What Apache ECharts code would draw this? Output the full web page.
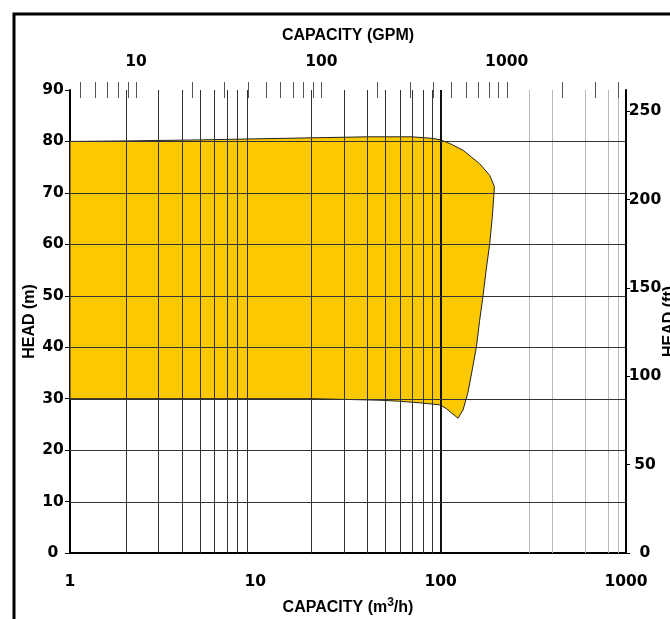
<!DOCTYPE html>
<html><head><meta charset="utf-8">
<script src="https://cdn.jsdelivr.net/npm/echarts@6/dist/echarts.min.js"></script>
<style>html,body{margin:0;padding:0;background:#fff}#c{width:670px;height:619px}</style>
</head><body><div id="c"></div>
<script>
// Operating envelope (capacity m3/h, head m), clockwise from top-left
const envelopeQ = [1, 2, 5, 10, 20, 40, 70, 90, 100, 112, 132, 162, 184, 195, 190, 184, 176, 169, 162, 156, 148, 140, 132, 124, 107, 99, 77, 60, 47, 20, 1];
const envelopeH = [80.0, 80.1, 80.3, 80.5, 80.7, 80.9, 80.9, 80.6, 80.3, 79.6, 78.3, 75.7, 73.4, 71.2, 65.4, 60.2, 55.0, 49.8, 45.0, 40.1, 35.6, 31.0, 27.8, 26.2, 28.1, 28.8, 29.2, 29.5, 29.7, 30.0, 30.0];
// Grid lines
const gridQ = [2, 3, 4, 5, 6, 7, 8, 9, 20, 30, 40, 50, 60, 70, 80, 90, 100, 300, 400, 600, 800, 900];
const gridH = [10, 20, 30, 40, 50, 60, 70, 80];
// Top (GPM) axis ticks
const gpmTicks = [5, 6, 7, 8, 9, 10, 20, 30, 40, 50, 60, 70, 80, 90, 100, 200, 300, 400, 500, 600, 700, 800, 900, 1000, 2000, 3000, 4000];
const qLabels = [1, 10, 100, 1000];
const gpmLabels = [10, 100, 1000];
const M3H_TO_GPM = 4.4029;
const Q_MIN = 1, Q_MAX = 1000, H_MIN = 0, H_MAX = 90, FT_MAX = 262, FT_STEP = 50, H_STEP = 10;

const numFont = {fontFamily: 'DejaVu Sans', fontWeight: 'bold', fontSize: 15.5, color: '#000'};
const nameFont = {fontFamily: 'Liberation Sans', fontWeight: 'bold', fontSize: 16, color: '#000'};
const blackLine = {show: true, lineStyle: {color: '#000', width: 2}};

function crisp(v) { return Math.round(v) + 0.5; }

const chart = echarts.init(document.getElementById('c'));
chart.setOption({
  animation: false,
  backgroundColor: '#fff',
  graphic: [{type: 'rect', shape: {x: 14, y: 14, width: 900, height: 900}, style: {fill: 'none', stroke: '#000', lineWidth: 3}, z: 100}],
  grid: {left: 70, right: 44, top: 90, bottom: 66, containLabel: false, outerBoundsMode: 'none'},
  xAxis: [{
    type: 'log', logBase: 10, min: Q_MIN, max: Q_MAX, position: 'bottom',
    name: 'CAPACITY (m{sup|3}/h)', nameLocation: 'middle', nameGap: 44, nameMoveOverlap: false,
    nameTextStyle: Object.assign({}, nameFont, {rich: {sup: Object.assign({}, nameFont, {fontSize: 12, padding: [0, 0, 9, 0]})}}),
    axisLine: blackLine, axisTick: {show: false}, splitLine: {show: false},
    axisLabel: Object.assign({}, numFont, {margin: 21,
      formatter: v => qLabels.includes(Math.round(v)) ? String(Math.round(v)) : ''})
  }, {
    type: 'log', logBase: 10, min: Q_MIN * M3H_TO_GPM, max: Q_MAX * M3H_TO_GPM, position: 'top',
    name: 'CAPACITY (GPM)', nameLocation: 'middle', nameGap: 46, nameMoveOverlap: false, nameTextStyle: nameFont,
    axisLine: blackLine, axisTick: {show: false}, splitLine: {show: false},
    axisLabel: Object.assign({}, numFont, {margin: 20,
      formatter: v => gpmLabels.includes(Math.round(v)) ? String(Math.round(v)) : ''})
  }],
  yAxis: [{
    type: 'value', min: H_MIN, max: H_MAX, interval: H_STEP, position: 'left',
    name: 'HEAD (m)', nameLocation: 'middle', nameGap: 32, nameMoveOverlap: false, nameTextStyle: nameFont,
    axisLine: blackLine, axisTick: {show: true, length: 5, lineStyle: {color: '#000', width: 1}},
    splitLine: {show: false},
    axisLabel: Object.assign({}, numFont, {margin: 17, align: 'center'})
  }, {
    type: 'value', min: H_MIN, max: FT_MAX, interval: FT_STEP, position: 'right',
    name: 'HEAD (ft)', nameLocation: 'middle', nameGap: 36, nameMoveOverlap: false, nameTextStyle: nameFont,
    axisLine: blackLine, axisTick: {show: true, length: 4, lineStyle: {color: '#000', width: 1}},
    splitLine: {show: false},
    axisLabel: Object.assign({}, numFont, {margin: 19, align: 'center', showMaxLabel: false,
      formatter: v => (v % FT_STEP === 0) ? String(v) : ''})
  }],
  series: [{
    type: 'custom', name: 'envelope', xAxisIndex: 0, yAxisIndex: 0, z: 2,
    data: envelopeQ.map((q, i) => [q, envelopeH[i]]),
    renderItem: function (params, api) {
      if (params.dataIndex !== 0) return null;
      const pts = envelopeQ.map((q, i) => api.coord([q, envelopeH[i]]));
      return {type: 'polygon', shape: {points: pts, smooth: 0}, style: {fill: '#FCC800', stroke: '#222', lineWidth: 1}};
    }
  }, {
    type: 'custom', name: 'vgrid', xAxisIndex: 0, yAxisIndex: 0, z: 3,
    data: gridQ.map(q => [q]),
    renderItem: function (params, api) {
      const q = api.value(0);
      const p1 = api.coord([q, H_MIN]), p2 = api.coord([q, H_MAX]);
      const major = q === 100, light = q > 100;
      const x = major ? Math.round(p1[0]) : crisp(p1[0]);
      return {type: 'line', shape: {x1: x, y1: p1[1], x2: x, y2: p2[1]},
        style: {stroke: major ? '#111' : (light ? '#b8b8b8' : '#333'), lineWidth: major ? 2 : 1}};
    }
  }, {
    type: 'custom', name: 'hgrid', xAxisIndex: 0, yAxisIndex: 0, z: 3,
    data: gridH.map(h => [Q_MIN, h]),
    renderItem: function (params, api) {
      const h = api.value(1);
      const p1 = api.coord([Q_MIN, h]), p2 = api.coord([Q_MAX, h]);
      const y = crisp(p1[1]);
      return {type: 'line', shape: {x1: p1[0], y1: y, x2: p2[0], y2: y}, style: {stroke: '#333', lineWidth: 1}};
    }
  }, {
    type: 'custom', name: 'gpmTicks', xAxisIndex: 1, yAxisIndex: 0, z: 4, clip: false,
    data: gpmTicks.map(g => [g, H_MAX]),
    renderItem: function (params, api) {
      const g = api.value(0);
      const p = api.coord([g, H_MAX]);
      const x = crisp(p[0]);
      return {type: 'line', shape: {x1: x, y1: p[1] - 8, x2: x, y2: p[1] + 8}, style: {stroke: '#555', lineWidth: 1}};
    }
  }]
});
</script></body></html>
